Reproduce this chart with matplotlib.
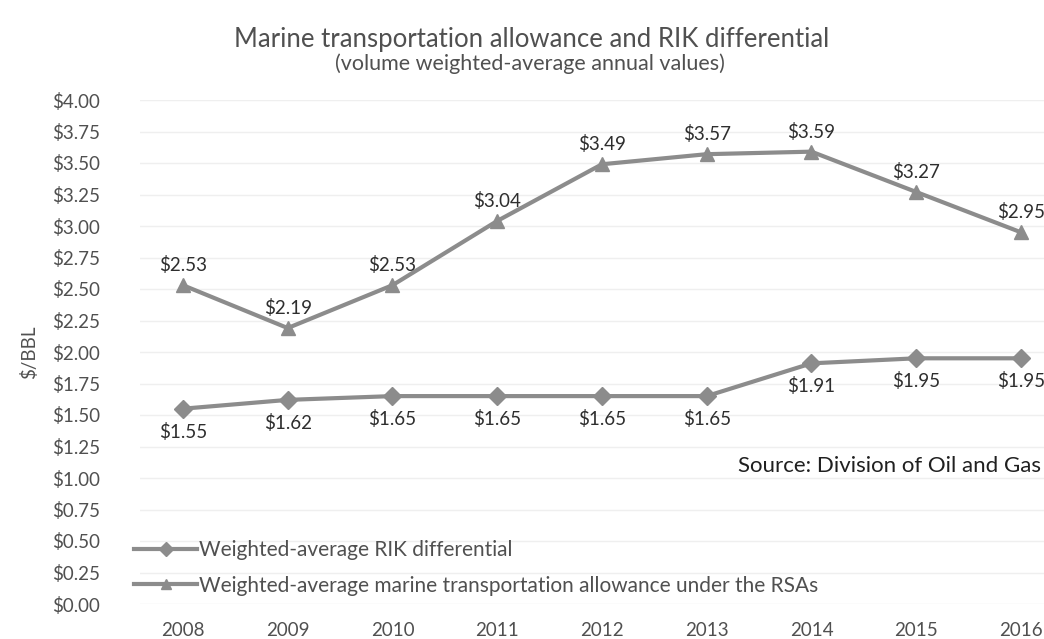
import matplotlib
matplotlib.use("Agg")
import matplotlib.pyplot as plt

years = ["2008", "2009", "2010", "2011", "2012", "2013", "2014", "2015", "2016"]
rik = [1.55, 1.62, 1.65, 1.65, 1.65, 1.65, 1.91, 1.95, 1.95]
marine = [2.53, 2.19, 2.53, 3.04, 3.49, 3.57, 3.59, 3.27, 2.95]
yticks = [0.0, 0.25, 0.5, 0.75, 1.0, 1.25, 1.5, 1.75, 2.0, 2.25, 2.5, 2.75, 3.0, 3.25, 3.5, 3.75, 4.0]

plt.rcParams['font.family'] = ['Lato', 'DejaVu Sans']
txt = '#505050'
lbl = '#2e2e2e'
lc = '#8c8c8c'

fig = plt.figure(figsize=(10.44, 6.39), dpi=100)
ax = fig.add_axes([140/1044, (639-604)/639, (1044-140)/1044, (604-100)/639])
x = list(range(len(years)))

ax.plot(x, rik, color=lc, lw=3, marker='D', ms=9, mfc=lc, mec=lc,
        label='Weighted-average RIK differential')
ax.plot(x, marine, color=lc, lw=3, marker='^', ms=10, mfc=lc, mec=lc,
        label='Weighted-average marine transportation allowance under the RSAs')

for xi, v in zip(x, rik):
    ax.annotate(f"${v:.2f}", (xi, v), xytext=(0, -10), textcoords='offset points',
                ha='center', va='top', fontsize=13.5, color=lbl)
for xi, v in zip(x, marine):
    ax.annotate(f"${v:.2f}", (xi, v), xytext=(0, 8), textcoords='offset points',
                ha='center', va='bottom', fontsize=13.5, color=lbl)

ax.set_xlim(-0.41, 8.22)
ax.set_ylim(0, 4)
ax.set_yticks(yticks)
ax.set_yticklabels([f"${t:.2f}" for t in yticks], color=txt, fontsize=13.5)
ax.set_xticks(x)
ax.set_xticklabels(years, color=txt, fontsize=13.5)
ax.tick_params(axis='both', length=0)
ax.tick_params(axis='x', pad=13)
ax.tick_params(axis='y', pad=28.5)
for lab in ax.get_yticklabels():
    lab.set_horizontalalignment('right')
ax.grid(axis='y', color='#efefef', lw=1)
ax.set_axisbelow(True)
for s in ax.spines.values():
    s.set_visible(False)

ax.set_ylabel('$/BBL', color=txt, fontsize=13.5, labelpad=10)

fig.text(532/1044, 1-39/639, 'Marine transportation allowance and RIK differential',
         ha='center', va='center', fontsize=18.5, color=txt)
fig.text(530/1044, 1-64/639, '(volume weighted-average annual values)',
         ha='center', va='center', fontsize=15.5, color=txt)
ax.text(0.997, (604-466)/504, 'Source: Division of Oil and Gas',
        transform=ax.transAxes, ha='right', va='center', fontsize=16, color='#202020')

leg = ax.legend(loc='lower left', bbox_to_anchor=(-0.02, -0.008), frameon=False,
                fontsize=15, labelcolor=txt, handlelength=3.0, handletextpad=0.1,
                borderaxespad=0.2, labelspacing=0.75, markerscale=0.75)

fig.savefig('out.png', dpi=100)
